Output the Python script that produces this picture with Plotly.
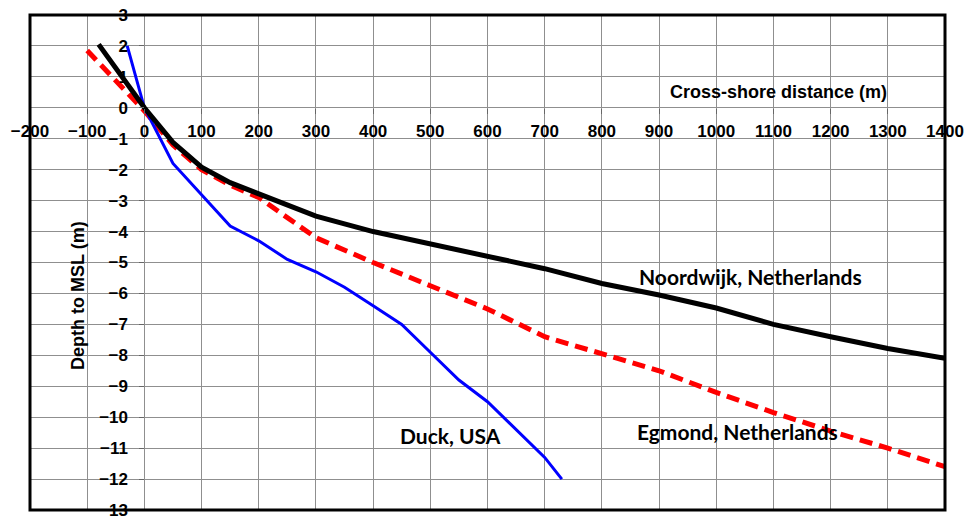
import plotly.graph_objects as go

# Data
noordwijk_x = [-80, 0, 50, 100, 150, 200, 250, 300, 400, 500, 600, 700, 800, 900, 1000, 1100, 1200, 1300, 1400]
noordwijk_y = [2.05, 0.0, -1.12, -1.92, -2.42, -2.78, -3.15, -3.5, -4.0, -4.4, -4.8, -5.2, -5.68, -6.05, -6.47, -7.0, -7.4, -7.78, -8.1]

egmond_x = [-100, 0, 50, 100, 150, 200, 300, 400, 500, 600, 700, 800, 900, 1000, 1100, 1200, 1300, 1400]
egmond_y = [1.85, -0.1, -1.2, -2.0, -2.5, -2.9, -4.2, -5.0, -5.75, -6.5, -7.4, -7.97, -8.5, -9.2, -9.85, -10.45, -11.0, -11.6]

duck_x = [-30, 0, 50, 100, 150, 200, 250, 300, 350, 400, 450, 500, 550, 600, 650, 700, 730]
duck_y = [2.0, 0.0, -1.8, -2.8, -3.82, -4.3, -4.9, -5.3, -5.8, -6.4, -7.0, -7.9, -8.8, -9.5, -10.4, -11.3, -12.0]

x_range = [-200, 1400]
y_range = [-13, 3]

fig = go.Figure()
fig.add_trace(go.Scatter(x=egmond_x, y=egmond_y, mode="lines", name="Egmond, Netherlands",
                         line=dict(color="#ff0000", width=5, dash="13px,7px")))
fig.add_trace(go.Scatter(x=duck_x, y=duck_y, mode="lines", name="Duck, USA",
                         line=dict(color="#0000ff", width=3)))
fig.add_trace(go.Scatter(x=noordwijk_x, y=noordwijk_y, mode="lines", name="Noordwijk, Netherlands",
                         line=dict(color="#000000", width=5)))

tickfont = dict(family="Liberation Sans, Arial", size=17, color="#000000", weight="bold")

fig.update_layout(
    width=968, height=517,
    margin=dict(l=30, r=23, t=15, b=7, autoexpand=False),
    paper_bgcolor="white", plot_bgcolor="white",
    showlegend=False,
    xaxis=dict(range=x_range, dtick=100, tick0=0, showgrid=True, gridcolor="#8f8f8f", gridwidth=1,
               zeroline=False, showline=False, anchor="free", position=13/16,
               ticks="outside", ticklen=5, tickcolor="#666666", tickfont=tickfont,
               ticklabelstandoff=3, ticklabeloverflow="allow", automargin=False),
    yaxis=dict(range=y_range, dtick=1, tick0=0, showgrid=True, gridcolor="#8f8f8f", gridwidth=1,
               zeroline=False, showline=False, anchor="free", position=0.125,
               ticks="outside", ticklen=5, tickcolor="#666666", tickfont=tickfont,
               ticklabelstandoff=8, ticklabeloverflow="allow", automargin=False),
    shapes=[dict(type="rect", xref="paper", yref="paper", x0=0, x1=1, y0=0, y1=1,
                 line=dict(color="black", width=3), layer="above")],
    annotations=[
        dict(text="Cross-shore distance (m)", x=1109, y=0.52, xref="x", yref="y", showarrow=False,
             font=dict(family="Liberation Sans, Arial", size=18, color="black", weight="bold")),
        dict(text="Depth to MSL (m)", x=-115, y=-6.06, xref="x", yref="y", showarrow=False, textangle=-90,
             font=dict(family="Liberation Sans, Arial", size=18, color="black", weight="bold")),
        dict(text="Noordwijk, Netherlands", x=1060, y=-5.45, xref="x", yref="y", showarrow=False,
             font=dict(family="Lato", size=21, color="black", weight="bold")),
        dict(text="Egmond, Netherlands", x=1037, y=-10.45, xref="x", yref="y", showarrow=False,
             font=dict(family="Lato", size=21, color="black", weight="bold")),
        dict(text="Duck, USA", x=536, y=-10.6, xref="x", yref="y", showarrow=False,
             font=dict(family="Lato", size=21, color="black", weight="bold")),
    ],
)

fig.write_html("out.html")
